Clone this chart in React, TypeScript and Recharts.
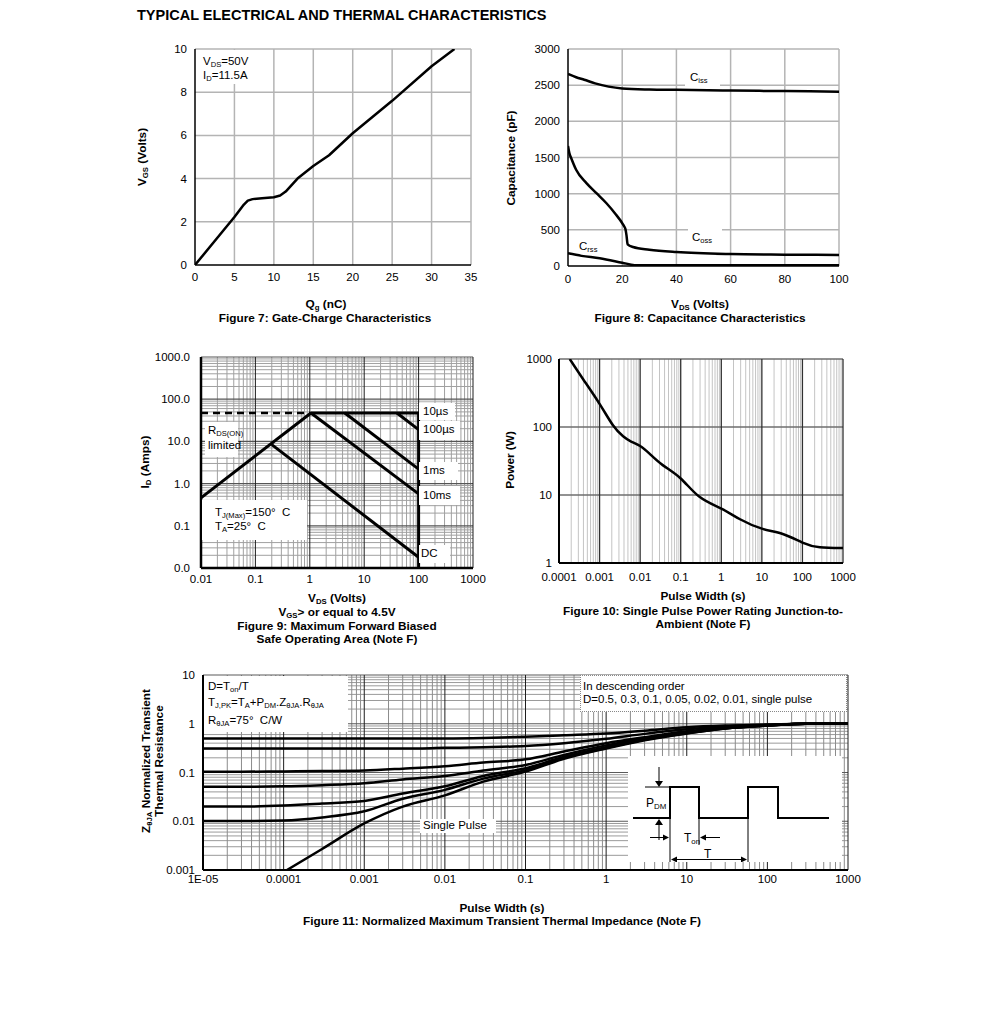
import React from 'react';
import { LineChart, Line, XAxis, YAxis, ReferenceLine } from 'recharts';

const FONT = '"Liberation Sans", Arial, Helvetica, sans-serif';

// ---------- Figure 7: gate charge ----------
const gateChargeQg = [0, 5, 6.2, 6.7, 7.3, 8.5, 10, 10.8, 11.5, 13, 15, 17, 20, 25, 30, 32.9];
const gateChargeVgs = [0, 2.22, 2.8, 2.98, 3.05, 3.09, 3.14, 3.22, 3.4, 4.0, 4.58, 5.08, 6.1, 7.6, 9.2, 10];
const fig7XTicks = [0, 5, 10, 15, 20, 25, 30, 35];
const fig7YTicks = [0, 2, 4, 6, 8, 10];

// ---------- Figure 8: capacitance ----------
const cissVds = [0, 3, 6, 10, 15, 20, 30, 40, 60, 80, 100];
const cissPf = [2655, 2610, 2575, 2525, 2480, 2455, 2440, 2435, 2425, 2418, 2410];
const cossVds = [0, 0.5, 1.2, 3, 6.8, 10.5, 14.2, 17.3, 20.4, 21.2, 21.6, 22, 24, 30, 40, 60, 80, 100];
const cossPf = [1660, 1560, 1490, 1330, 1145, 1007, 868, 730, 568, 510, 420, 300, 262, 225, 192, 165, 157, 152];
const crssVds = [0, 5, 11.7, 20, 24.6, 30, 100];
const crssPf = [175, 140, 107, 46, 12, 10, 10];
const fig8XTicks = [0, 20, 40, 60, 80, 100];
const fig8YTicks = [0, 500, 1000, 1500, 2000, 2500, 3000];

// ---------- Figure 9: safe operating area ----------
const rdsLimitV = [0.01, 1.05];
const rdsLimitA = [0.46, 47];
const rdsDashV = [0.01, 1.05];
const rdsDashA = [47, 47];
const us10V = [1.05, 100, 100];
const us10A = [47, 47, 0.01];
const us100V = [40, 100];
const us100A = [47, 19];
const ms1V = [4.4, 100];
const ms1A = [47, 2.2];
const ms10V = [1.05, 100];
const ms10A = [47, 0.57];
const dcV = [0.2, 100];
const dcA = [8.4, 0.018];
const fig9Ticks = [0.01, 0.1, 1, 10, 100, 1000];

// ---------- Figure 10: single pulse power ----------
const spTime = [0.000184, 0.00039, 0.001, 0.00214, 0.0038, 0.006, 0.01, 0.017, 0.036, 0.1, 0.29, 1, 2.9, 10, 34, 100, 270, 1000];
const spPower = [1000, 509, 219, 106, 73, 61, 52.5, 40.5, 27.5, 17.5, 9.4, 6.3, 4.4, 3.2, 2.65, 2.0, 1.7, 1.66];
const fig10XTicks = [0.0001, 0.001, 0.01, 0.1, 1, 10, 100, 1000];
const fig10YTicks = [1, 10, 100, 1000];

// ---------- Figure 11: transient thermal impedance ----------
const zthX = [1e-5, 3e-5, 1e-4, 3e-4, 1e-3, 3e-3, 1e-2, 3e-2, 0.1, 0.3, 1, 3, 10, 30, 100, 300, 1000];
const zthD50 = [0.5, 0.5, 0.5, 0.5, 0.5, 0.5, 0.5, 0.51, 0.54, 0.58, 0.63, 0.72, 0.85, 0.92, 0.96, 1.0, 1.0];
const zthD30 = [0.31, 0.31, 0.31, 0.31, 0.31, 0.31, 0.32, 0.33, 0.35, 0.4, 0.49, 0.62, 0.77, 0.88, 0.95, 1.0, 1.0];
const zthD10 = [0.104, 0.104, 0.105, 0.107, 0.11, 0.12, 0.135, 0.16, 0.186, 0.27, 0.4, 0.53, 0.7, 0.84, 0.93, 1.0, 1.0];
const zthD05 = [0.051, 0.051, 0.052, 0.055, 0.06, 0.072, 0.085, 0.11, 0.143, 0.23, 0.36, 0.5, 0.67, 0.82, 0.92, 1.0, 1.0];
const zthD02 = [0.02, 0.02, 0.021, 0.023, 0.026, 0.037, 0.052, 0.085, 0.122, 0.21, 0.33, 0.48, 0.65, 0.81, 0.92, 1.0, 1.0];
const zthD01 = [0.0101, 0.0101, 0.0104, 0.012, 0.016, 0.029, 0.044, 0.075, 0.112, 0.2, 0.32, 0.47, 0.64, 0.8, 0.92, 1.0, 1.0];
const zthSingleX = [1.1e-4, 3e-4, 1e-3, 3e-3, 1e-2, 3e-2, 0.1, 0.3, 1, 3, 10, 30, 100, 300, 1000];
const zthSingleY = [0.001, 0.0027, 0.009, 0.02, 0.034, 0.065, 0.104, 0.19, 0.31, 0.46, 0.63, 0.8, 0.92, 1.0, 1.0];
const fig11XTicks = [1e-5, 1e-4, 1e-3, 1e-2, 0.1, 1, 10, 100, 1000];
const fig11XLabels = ['1E-05', '0.0001', '0.001', '0.01', '0.1', '1', '10', '100', '1000'];
const fig11YTicks = [0.001, 0.01, 0.1, 1, 10];

type Pt = { x: number; y: number };
const zip = (xs: number[], ys: number[]): Pt[] => xs.map((x, i) => ({ x, y: ys[i] }));

// log grid positions (decades and 2..9 subdivisions)
function logGrid(min: number, max: number) {
  const major: number[] = [];
  const minor: number[] = [];
  const e0 = Math.round(Math.log10(min));
  const e1 = Math.round(Math.log10(max));
  for (let e = e0; e < e1; e++) {
    const b = Math.pow(10, e);
    major.push(b);
    for (let k = 2; k <= 9; k++) minor.push(parseFloat((k * b).toPrecision(3)));
  }
  major.push(max);
  return { major, minor };
}

type SeriesDef = { data: Pt[]; w?: number; dash?: string; curve?: 'monotone' | 'linear' | 'natural' };

type PlotProps = {
  L: number; R: number; T: number; B: number;
  xDomain: [number, number]; yDomain: [number, number];
  xLog?: boolean; yLog?: boolean;
  xTicks: number[]; yTicks: number[];
  xFmt?: (v: number) => string; yFmt?: (v: number) => string;
  vMajor: number[]; vMinor: number[]; hMajor: number[]; hMinor: number[];
  vMajorStyle: [string, number]; vMinorStyle: [string, number];
  hMajorStyle: [string, number]; hMinorStyle: [string, number];
  series: SeriesDef[];
  xGap: number; yGap: number; axisW: number;
};

function Plot(p: PlotProps) {
  const ml = 60, mt = 10, mr = 15, xh = 30, mb = 5;
  const width = p.R - p.L + ml + mr;
  const height = p.B - p.T + mt + xh + mb;
  const tick = { fontSize: 11.5, fill: '#000', fontFamily: FONT };
  const vx = (arr: number[]) => arr.filter((v) => v !== p.xDomain[0]);
  const hy = (arr: number[]) => arr.filter((v) => v !== p.yDomain[0]);
  return (
    <div style={{ position: 'absolute', left: p.L - ml, top: p.T - mt }}>
      <LineChart width={width} height={height} margin={{ top: mt, right: mr, bottom: mb, left: 0 }}>
        {hy(p.hMinor).map((v) => (
          <ReferenceLine key={'hm' + v} y={v} stroke={p.hMinorStyle[0]} strokeWidth={p.hMinorStyle[1]} />
        ))}
        {vx(p.vMinor).map((v) => (
          <ReferenceLine key={'vm' + v} x={v} stroke={p.vMinorStyle[0]} strokeWidth={p.vMinorStyle[1]} />
        ))}
        {hy(p.hMajor).map((v) => (
          <ReferenceLine key={'hM' + v} y={v} stroke={p.hMajorStyle[0]} strokeWidth={p.hMajorStyle[1]} />
        ))}
        {vx(p.vMajor).map((v) => (
          <ReferenceLine key={'vM' + v} x={v} stroke={p.vMajorStyle[0]} strokeWidth={p.vMajorStyle[1]} />
        ))}
        <XAxis
          dataKey="x"
          type="number"
          scale={p.xLog ? 'log' : 'linear'}
          domain={p.xDomain}
          allowDataOverflow
          ticks={p.xTicks}
          interval={0}
          tickFormatter={p.xFmt}
          height={xh}
          tickLine={false}
          tickSize={0}
          tickMargin={p.xGap}
          axisLine={{ stroke: '#000', strokeWidth: p.axisW }}
          tick={tick}
        />
        <YAxis
          type="number"
          scale={p.yLog ? 'log' : 'linear'}
          domain={p.yDomain}
          allowDataOverflow
          ticks={p.yTicks}
          interval={0}
          tickFormatter={p.yFmt}
          width={ml}
          tickLine={false}
          tickSize={0}
          tickMargin={p.yGap}
          axisLine={{ stroke: '#000', strokeWidth: p.axisW }}
          tick={tick}
        />
        {p.series.map((s, i) => (
          <Line
            key={i}
            data={s.data}
            dataKey="y"
            type={s.curve ?? 'monotone'}
            stroke="#000"
            strokeWidth={s.w ?? 2.5}
            strokeDasharray={s.dash}
            strokeLinejoin="round"
            dot={false}
            activeDot={false}
            isAnimationActive={false}
          />
        ))}
      </LineChart>
    </div>
  );
}

const Sub = ({ children }: { children: React.ReactNode }) => (
  <span style={{ fontSize: '0.66em', position: 'relative', top: '0.3em' }}>{children}</span>
);

type TxtProps = {
  x: number; y: number; children: React.ReactNode; size?: number; bold?: boolean;
  align?: 'left' | 'center' | 'right'; rotate?: boolean; lh?: number;
};
const Txt = ({ x, y, children, size, bold = false, align = 'left', rotate = false, lh = 1 }: TxtProps) => {
  const tx = rotate || align === 'center' ? '-50%' : align === 'right' ? '-100%' : '0';
  const fs = size ?? (bold ? 11.8 : 11.5);
  return (
    <div
      style={{
        position: 'absolute', left: x, top: y,
        transform: `translate(${tx}, -50%)${rotate ? ' rotate(-90deg)' : ''}`,
        fontFamily: FONT, fontSize: fs, fontWeight: bold ? 'bold' : 'normal',
        lineHeight: lh, whiteSpace: 'nowrap', color: '#000', textAlign: 'center',
      }}
    >
      {children}
    </div>
  );
};

const Box = ({ x, y, w, h, border }: { x: number; y: number; w: number; h: number; border?: string }) => (
  <div style={{ position: 'absolute', left: x, top: y, width: w, height: h, background: '#fff', border, boxSizing: 'border-box' }} />
);

const linGridStyle: [string, number] = ['#b4b4b4', 1.5];

export default function App() {
  const g9x = logGrid(0.01, 1000);
  const g9y = logGrid(0.01, 1000);
  const g10x = logGrid(0.0001, 1000);
  const g11x = logGrid(1e-5, 1000);
  const g11y = logGrid(0.001, 10);
  const arrow = (pts: string) => <polygon points={pts} fill="#000" />;

  return (
    <div style={{ position: 'absolute', left: 0, top: 0, width: 991, height: 1009, background: '#fff', overflow: 'hidden' }}>
      <Txt x={137} y={15} size={14.5} bold>TYPICAL ELECTRICAL AND THERMAL CHARACTERISTICS</Txt>

      {/* Figure 7 */}
      <Plot
        L={195} R={471} T={49} B={265}
        xDomain={[0, 35]} yDomain={[0, 10]}
        xTicks={fig7XTicks} yTicks={fig7YTicks}
        vMajor={fig7XTicks} vMinor={[]} hMajor={fig7YTicks} hMinor={[]}
        vMajorStyle={linGridStyle} vMinorStyle={linGridStyle} hMajorStyle={linGridStyle} hMinorStyle={linGridStyle}
        series={[{ data: zip(gateChargeQg, gateChargeVgs), w: 2.5, curve: 'linear' }]}
        xGap={8} yGap={8} axisW={1.5}
      />
      {/* Figure 8 */}
      <Plot
        L={568} R={839} T={49} B={266}
        xDomain={[0, 100]} yDomain={[0, 3000]}
        xTicks={fig8XTicks} yTicks={fig8YTicks}
        vMajor={fig8XTicks} vMinor={[]} hMajor={fig8YTicks} hMinor={[]}
        vMajorStyle={linGridStyle} vMinorStyle={linGridStyle} hMajorStyle={linGridStyle} hMinorStyle={linGridStyle}
        series={[
          { data: zip(cissVds, cissPf), w: 2.5 },
          { data: zip(cossVds, cossPf), w: 2.5 },
          { data: zip(crssVds, crssPf), w: 2.5 },
        ]}
        xGap={9} yGap={8} axisW={1.5}
      />
      {/* Figure 9 */}
      <Plot
        L={201} R={473} T={357} B={568}
        xDomain={[0.01, 1000]} yDomain={[0.01, 1000]} xLog yLog
        xTicks={fig9Ticks} yTicks={fig9Ticks}
        xFmt={(v) => String(v)} yFmt={(v) => v.toFixed(1)}
        vMajor={g9x.major} vMinor={g9x.minor} hMajor={g9y.major} hMinor={g9y.minor}
        vMajorStyle={['#1e1e1e', 1]} vMinorStyle={['#a0a0a0', 1]} hMajorStyle={['#555', 1.2]} hMinorStyle={['#a0a0a0', 1]}
        series={[
          { data: zip(rdsDashV, rdsDashA), w: 2.5, dash: '7 5', curve: 'linear' },
          { data: zip(rdsLimitV, rdsLimitA), w: 3, curve: 'linear' },
          { data: zip(us10V, us10A), w: 3, curve: 'linear' },
          { data: zip(us100V, us100A), w: 3, curve: 'linear' },
          { data: zip(ms1V, ms1A), w: 3, curve: 'linear' },
          { data: zip(ms10V, ms10A), w: 3, curve: 'linear' },
          { data: zip(dcV, dcA), w: 3, curve: 'linear' },
        ]}
        xGap={7} yGap={11} axisW={2.5}
      />
      {/* Figure 10 */}
      <Plot
        L={559} R={843} T={359} B={563}
        xDomain={[0.0001, 1000]} yDomain={[1, 1000]} xLog yLog
        xTicks={fig10XTicks} yTicks={fig10YTicks}
        xFmt={(v) => String(v)} yFmt={(v) => String(v)}
        vMajor={g10x.major} vMinor={g10x.minor} hMajor={fig10YTicks} hMinor={[]}
        vMajorStyle={['#303030', 1.3]} vMinorStyle={['#c4c4c4', 1]} hMajorStyle={['#6e6e6e', 1.5]} hMinorStyle={['#c4c4c4', 1]}
        series={[{ data: zip(spTime, spPower), w: 2.5, curve: 'natural' }]}
        xGap={10} yGap={7} axisW={2}
      />
      {/* Figure 11 */}
      <Plot
        L={203} R={848} T={675} B={870}
        xDomain={[1e-5, 1000]} yDomain={[0.001, 10]} xLog yLog
        xTicks={fig11XTicks} yTicks={fig11YTicks}
        xFmt={(v) => fig11XLabels[fig11XTicks.indexOf(v)] ?? String(v)} yFmt={(v) => String(v)}
        vMajor={g11x.major} vMinor={g11x.minor} hMajor={g11y.major} hMinor={g11y.minor}
        vMajorStyle={['#1e1e1e', 1]} vMinorStyle={['#8c8c8c', 1]} hMajorStyle={['#5a5a5a', 1.2]} hMinorStyle={['#9a9a9a', 1]}
        series={[
          { data: zip(zthX, zthD50) },
          { data: zip(zthX, zthD30) },
          { data: zip(zthX, zthD10) },
          { data: zip(zthX, zthD05) },
          { data: zip(zthX, zthD02) },
          { data: zip(zthX, zthD01) },
          { data: zip(zthSingleX, zthSingleY) },
        ]}
        xGap={5} yGap={8} axisW={2}
      />

      {/* Figure 7 text */}
      <Box x={196} y={50} w={58} h={34} />
      <Txt x={203} y={62}>V<Sub>DS</Sub>=50V</Txt>
      <Txt x={203} y={75.5}>I<Sub>D</Sub>=11.5A</Txt>
      <Txt x={143} y={157} bold rotate>V<Sub>GS</Sub> (Volts)</Txt>
      <Txt x={326} y={305} bold align="center">Q<Sub>g</Sub> (nC)</Txt>
      <Txt x={325} y={318.5} bold align="center">Figure 7: Gate-Charge Characteristics</Txt>

      {/* Figure 8 text */}
      <Box x={685} y={70} w={35} h={18} />
      <Txt x={690} y={78}>C<Sub>iss</Sub></Txt>
      <Box x={688} y={226} w={34} h={19} />
      <Txt x={692} y={237.5}>C<Sub>oss</Sub></Txt>
      <Txt x={579} y={247}>C<Sub>rss</Sub></Txt>
      <Txt x={512} y={158} bold rotate>Capacitance (pF)</Txt>
      <Txt x={700} y={305} bold align="center">V<Sub>DS</Sub> (Volts)</Txt>
      <Txt x={700} y={318.5} bold align="center">Figure 8: Capacitance Characteristics</Txt>

      {/* Figure 9 text */}
      <Box x={205} y={422} w={33} h={35} />
      <Txt x={208} y={430.5}>R<Sub>DS(ON)</Sub></Txt>
      <Txt x={208} y={446}>limited</Txt>
      <Box x={202} y={500} w={105} h={40} />
      <Txt x={215} y={513}>T<Sub>J(Max)</Sub>=150°&nbsp; C</Txt>
      <Txt x={215} y={527}>T<Sub>A</Sub>=25°&nbsp; C</Txt>
      <Box x={419} y={403} w={36} h={17} />
      <Txt x={423} y={411.5}>10µs</Txt>
      <Box x={419} y={421} w={41} h={19} />
      <Txt x={423} y={430}>100µs</Txt>
      <Box x={419} y={462} w={39} h={18} />
      <Txt x={423} y={471}>1ms</Txt>
      <Box x={419} y={486} w={41} h={19} />
      <Txt x={423} y={495.5}>10ms</Txt>
      <Box x={419} y={545} w={31} h={18} />
      <Txt x={421} y={554}>DC</Txt>
      <Txt x={146} y={462} bold rotate>I<Sub>D</Sub> (Amps)</Txt>
      <Txt x={337} y={599} bold align="center">V<Sub>DS</Sub> (Volts)</Txt>
      <Txt x={337} y={613} bold align="center">V<Sub>GS</Sub>&gt; or equal to 4.5V</Txt>
      <Txt x={337} y={627} bold align="center">Figure 9: Maximum Forward Biased</Txt>
      <Txt x={337} y={640} bold align="center">Safe Operating Area (Note F)</Txt>

      {/* Figure 10 text */}
      <Txt x={511} y={460} bold rotate>Power (W)</Txt>
      <Txt x={703} y={597} bold align="center">Pulse Width (s)</Txt>
      <Txt x={703} y={611.5} bold align="center">Figure 10: Single Pulse Power Rating Junction-to-</Txt>
      <Txt x={703} y={625} bold align="center">Ambient (Note F)</Txt>

      {/* Figure 11 text */}
      <Box x={204} y={676} w={144} h={56} />
      <Txt x={208} y={687}>D=T<Sub>on</Sub>/T</Txt>
      <Txt x={208} y={703}>T<Sub>J,PK</Sub>=T<Sub>A</Sub>+P<Sub>DM</Sub>.Z<Sub>θJA</Sub>.R<Sub>θJA</Sub></Txt>
      <Txt x={208} y={721}>R<Sub>θJA</Sub>=75°&nbsp; C/W</Txt>
      <Box x={580} y={675} w={267} h={37} border="1px dotted #888" />
      <Txt x={583} y={687}>In descending order</Txt>
      <Txt x={583} y={700}>D=0.5, 0.3, 0.1, 0.05, 0.02, 0.01, single pulse</Txt>
      <Box x={420} y={819} w={76} h={14} />
      <Txt x={423} y={826}>Single Pulse</Txt>
      <Txt x={152.5} y={761} bold rotate lh={1.1}>
        <div>Z<Sub>θJA</Sub> Normalized Transient</div>
        <div>Thermal Resistance</div>
      </Txt>
      <Txt x={502} y={909} bold align="center">Pulse Width (s)</Txt>
      <Txt x={502} y={922} bold align="center">Figure 11: Normalized Maximum Transient Thermal Impedance (Note F)</Txt>

      {/* Inset: pulse definition diagram */}
      <Box x={628} y={756} w={214} h={106} />
      <svg style={{ position: 'absolute', left: 628, top: 756 }} width={214} height={106} viewBox="628 756 214 106">
        <path d="M633 818 H670 V787 H699 V818 H748 V787 H778 V818 H829" fill="none" stroke="#000" strokeWidth={2} />
        <line x1={645} y1={787} x2={670} y2={787} stroke="#000" strokeWidth={1} />
        <line x1={659} y1={767} x2={659} y2={782} stroke="#000" strokeWidth={1} />
        {arrow('655,781 663,781 659,787')}
        <line x1={659} y1={824} x2={659} y2={840} stroke="#000" strokeWidth={1} />
        {arrow('655,825 663,825 659,819')}
        <line x1={670} y1={818} x2={670} y2={862} stroke="#000" strokeWidth={1} />
        <line x1={699} y1={818} x2={699} y2={845} stroke="#000" strokeWidth={1} />
        <line x1={748} y1={818} x2={748} y2={862} stroke="#000" strokeWidth={1} />
        <line x1={650} y1={837.5} x2={664} y2={837.5} stroke="#000" strokeWidth={1} />
        {arrow('663,834.5 663,840.5 669,837.5')}
        <line x1={705} y1={837.5} x2={720} y2={837.5} stroke="#000" strokeWidth={1} />
        {arrow('706,834.5 706,840.5 700,837.5')}
        <line x1={676} y1={859.5} x2={742} y2={859.5} stroke="#000" strokeWidth={1} />
        {arrow('677,856.5 677,862.5 671,859.5')}
        {arrow('741,856.5 741,862.5 747,859.5')}
      </svg>
      <Txt x={646} y={803} size={12}>P<Sub>DM</Sub></Txt>
      <Txt x={684} y={838} size={12}>T<Sub>on</Sub></Txt>
      <Txt x={704} y={854} size={12}>T</Txt>
    </div>
  );
}
